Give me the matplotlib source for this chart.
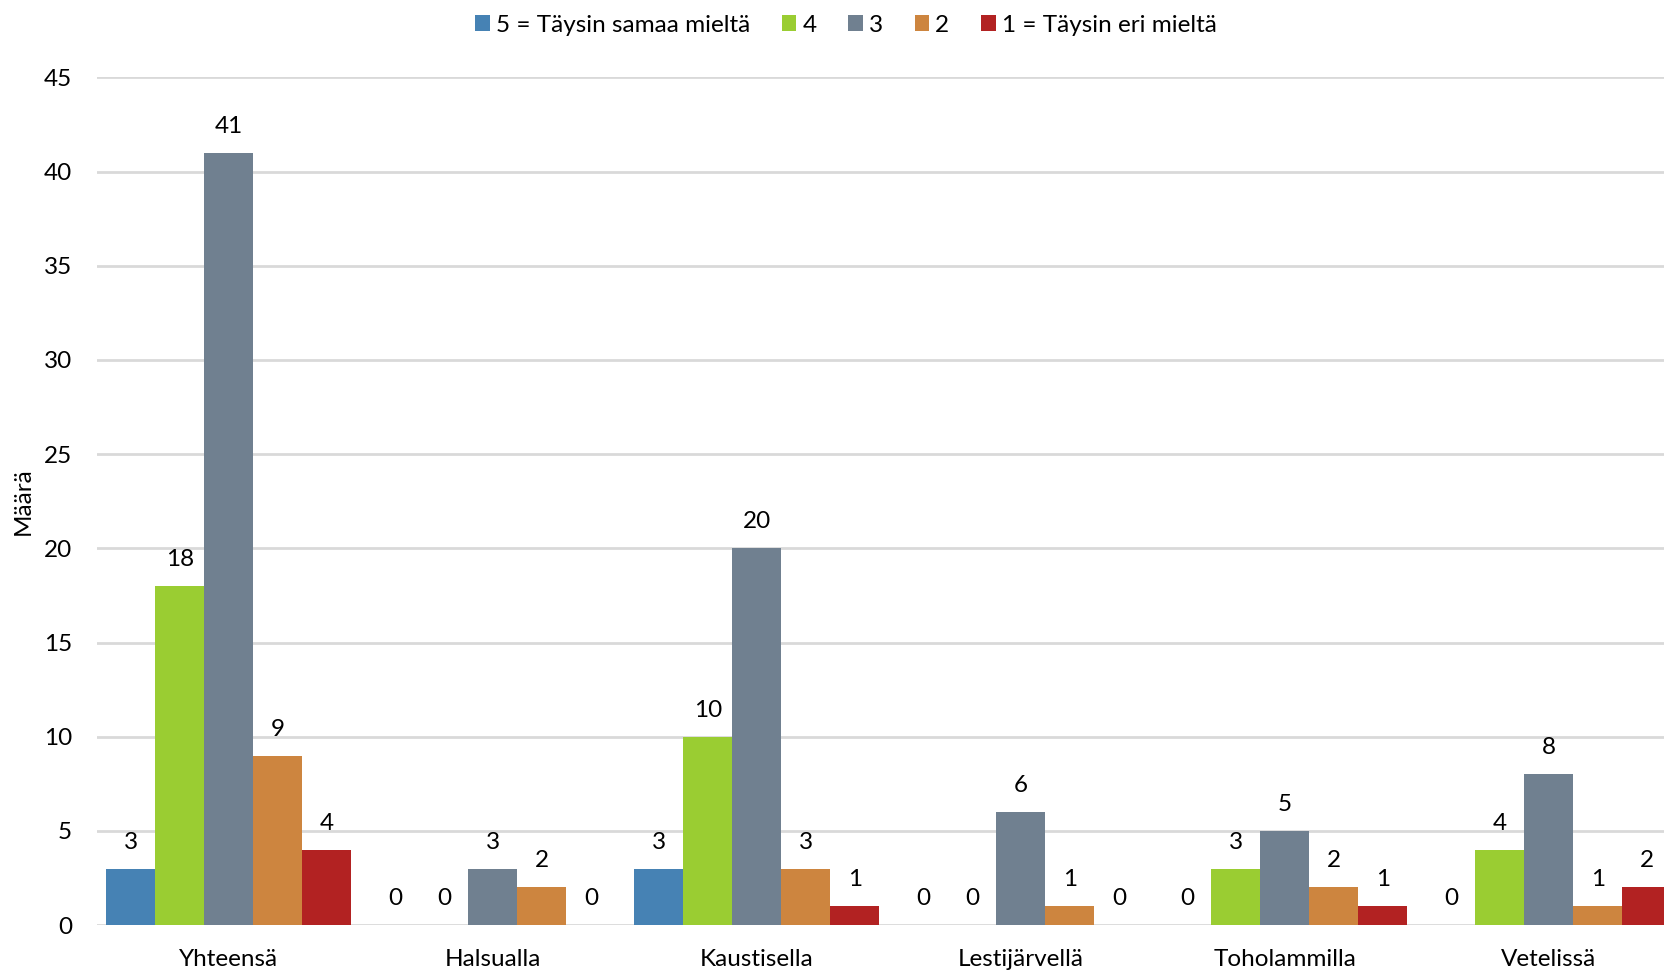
import matplotlib
matplotlib.use("Agg")
import matplotlib.pyplot as plt
from matplotlib.patches import Patch
import numpy as np

plt.rcParams['font.family'] = ['Lato', 'DejaVu Sans']

categories = ["Yhteensä", "Halsualla", "Kaustisella", "Lestijärvellä", "Toholammilla", "Vetelissä"]
series_names = ["5 = Täysin samaa mieltä", "4", "3", "2", "1 = Täysin eri mieltä"]
s5 = [3, 0, 3, 0, 0, 0]
s4 = [18, 0, 10, 0, 3, 4]
s3 = [41, 3, 20, 6, 5, 8]
s2 = [9, 2, 3, 1, 2, 1]
s1 = [4, 0, 1, 0, 1, 2]
series = [s5, s4, s3, s2, s1]
colors = ["#4682b4", "#9acd32", "#708090", "#cd853f", "#b22222"]
yticks = [0, 5, 10, 15, 20, 25, 30, 35, 40, 45]

FS = 17.5
W, H = 1665, 972
fig = plt.figure(figsize=(W / 100, H / 100), dpi=100)
ax = fig.add_axes([97 / W, 47 / H, (1681 - 97) / W, (925 - 77.5) / H])

x = np.arange(len(categories))
bw = 49 / 264
for i, (vals, c) in enumerate(zip(series, colors)):
    offs = (i - 2) * bw
    ax.bar(x + offs, vals, width=bw, color=c, zorder=3, linewidth=0)
    for xi, v in zip(x + offs, vals):
        ax.annotate(str(v), (xi, v), xytext=(0, 19), textcoords="offset points",
                    ha="center", va="center", fontsize=FS, color="black")

ax.set_xlim(-0.5, len(categories) - 0.5)
ax.set_ylim(0, 45)
ax.set_yticks(yticks)
ax.set_xticks(x)
ax.set_xticklabels(categories, fontsize=FS)
ax.tick_params(axis="y", labelsize=FS, length=0, pad=18)
ax.tick_params(axis="x", length=0, pad=17)
ax.yaxis.grid(True, color="#d9d9d9", linewidth=2, zorder=0)
ax.set_axisbelow(True)
for s in ax.spines.values():
    s.set_visible(False)
ax.set_ylabel("Määrä", fontsize=FS, labelpad=7)

handles = [Patch(facecolor=c, label=n) for c, n in zip(colors, series_names)]
fig.legend(handles=handles, loc="center", bbox_to_anchor=(846 / W, 1 - 25 / H),
           ncol=5, frameon=False, fontsize=FS, handlelength=0.6, handleheight=0.6,
           handletextpad=0.25, columnspacing=1.3)

fig.savefig("out.png", dpi=100)
